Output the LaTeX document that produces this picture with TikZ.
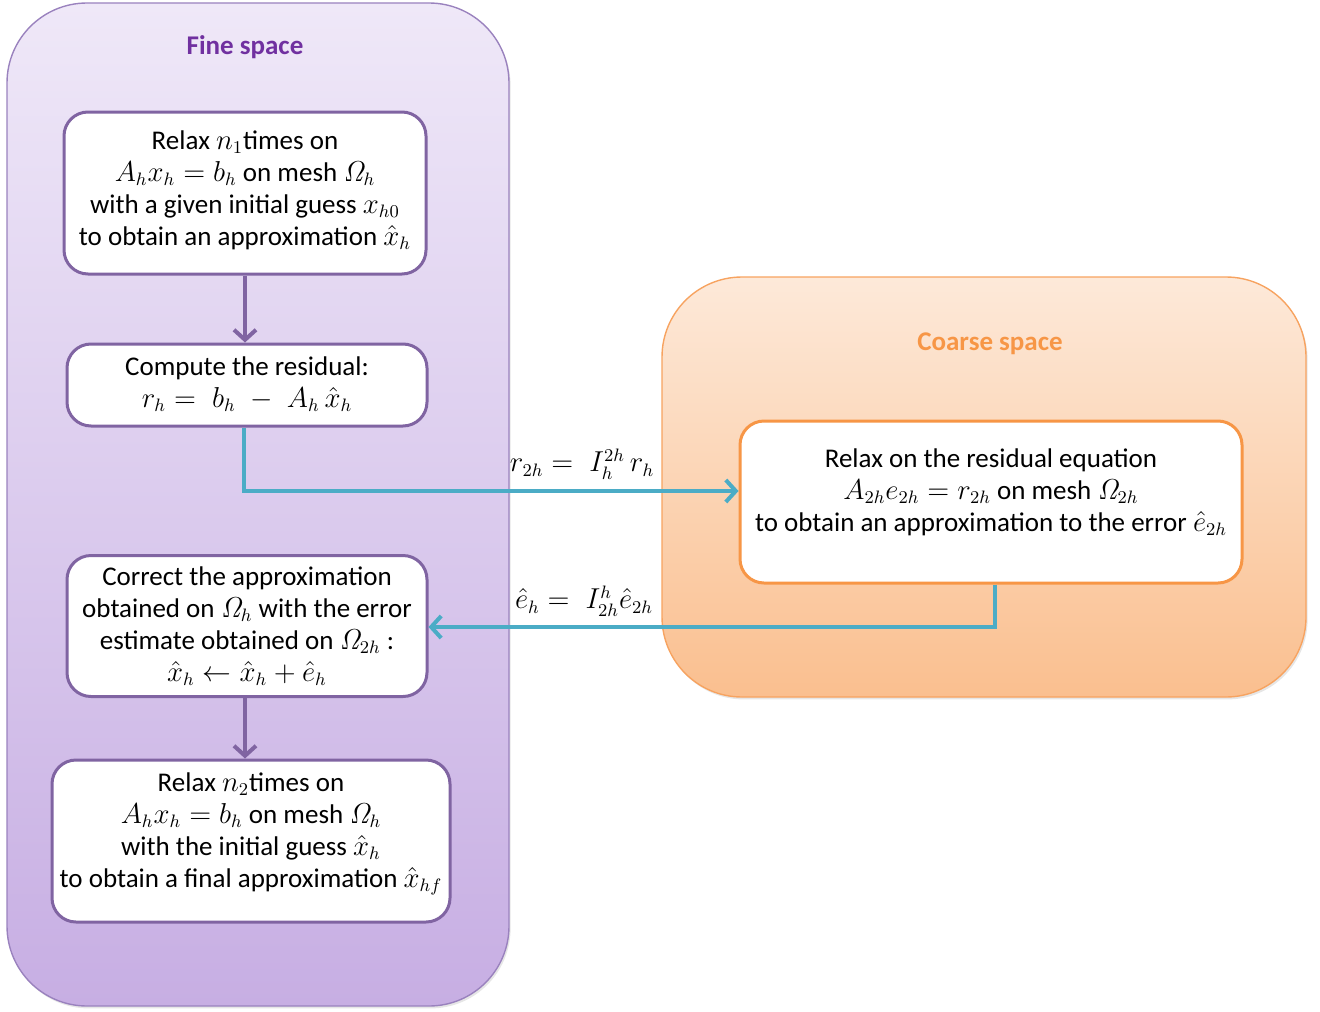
\documentclass[tikz,border=0pt]{standalone}
\usepackage[no-math]{fontspec}
\setmainfont{Carlito}
\usetikzlibrary{arrows.meta,shadows}
\definecolor{finetop}{HTML}{EFE8F8}
\definecolor{finebot}{HTML}{C7AEE3}
\definecolor{fineedge}{HTML}{9A82BE}
\definecolor{coarsetop}{HTML}{FDE9D9}
\definecolor{coarsebot}{HTML}{FABF8F}
\definecolor{coarseedge}{HTML}{F7A360}
\definecolor{purp}{HTML}{8064A2}
\definecolor{purptitle}{HTML}{7030A0}
\definecolor{orng}{HTML}{F79646}
\definecolor{cyanl}{HTML}{4BACC6}
\newcommand{\Om}{\mathit{\Omega}}
\tikzset{
  container/.style={rounded corners=40pt, line width=0.7pt, drop shadow={opacity=0.2, shadow xshift=0.8pt, shadow yshift=-1.2pt}},
  finebox/.style={draw=purp, line width=1.5pt, fill=white, rounded corners=12pt, inner sep=0pt},
  coarsebox/.style={finebox, draw=orng},
  boxtext/.style={align=center, inner sep=0pt, font=\fontsize{13.5}{16}\selectfont},
  title/.style={font=\fontsize{13.5}{16}\selectfont\bfseries},
  purparrow/.style={draw=purp, line width=2pt, -{Straight Barb[length=5pt, width=11pt, line width=2pt]}},
  cyanarrow/.style={draw=cyanl, line width=2pt, -{Straight Barb[length=5pt, width=11pt, line width=2pt]}},
  lbl/.style={font=\fontsize{13.5}{16}\selectfont, inner sep=0pt}
}
\begin{document}
\begin{tikzpicture}[x=0.5pt, y=-0.5pt]
\useasboundingbox (0,0) rectangle (1320,1011);
% containers
\path[container, draw=fineedge, top color=finetop, bottom color=finebot] (7,3) rectangle (509,1006);
\path[container, draw=coarseedge, top color=coarsetop, bottom color=coarsebot] (662,277) rectangle (1306,697);
\node[title, text=purptitle] (tf) at (245,47) {Fine space};
\node[title, text=orng] (tc) at (990,344) {Coarse space};
% boxes
\node[finebox, minimum width=181pt, minimum height=81pt] (b1) at (245,193) {};
\node[boxtext] (t1) at (245,190)
  {Relax $n_1$times on\\ $A_hx_h=b_h$ on mesh $\Om_h$\\ with a given initial guess $x_{h0}$\\ to obtain an approximation $\hat{x}_h$};
\node[finebox, minimum width=180pt, minimum height=41pt] (b2) at (247,385) {};
\node[boxtext] (t2) at (247,384)
  {Compute the residual:\\ $r_h =\; b_h \;-\; A_h\,\hat{x}_h$};
\node[coarsebox, minimum width=251pt, minimum height=81pt] (b3) at (991,502) {};
\node[boxtext] (t3) at (991,492)
  {Relax on the residual equation\\ $A_{2h}e_{2h}=r_{2h}$ on mesh $\Om_{2h}$\\ to obtain an approximation to the error $\hat{e}_{2h}$};
\node[finebox, minimum width=180pt, minimum height=70.5pt] (b4) at (247,626) {};
\node[boxtext] (t4) at (247,626)
  {Correct the approximation\\ obtained on $\Om_h$ with the error\\ estimate obtained on $\Om_{2h}$ :\\ $\hat{x}_h \leftarrow \hat{x}_h + \hat{e}_h$};
\node[finebox, minimum width=199pt, minimum height=81pt] (b5) at (251,841) {};
\node[boxtext] (t5) at (251,834)
  {Relax $n_2$times on\\ $A_hx_h=b_h$ on mesh $\Om_h$\\ with the initial guess $\hat{x}_h$\\ to obtain a final approximation $\hat{x}_{hf}$};
% connectors
\draw[purparrow] (b1.south) -- (b1.south |- b2.north);
\draw[purparrow] (b4.south -| b1.south) -- (b1.south |- b5.north);
\coordinate (r1) at (244,491);
\draw[cyanarrow] (b2.south -| r1) -- (r1) -- (b3.west |- r1);
\coordinate (r2) at (995,627);
\draw[cyanarrow] (b3.south -| r2) -- (r2) -- (b4.east |- r2);
\node[lbl] (l1) at (582,464) {$r_{2h} =\; I_h^{2h}\, r_h$};
\node[lbl] (l2) at (584,601) {$\hat{e}_h =\; I_{2h}^{h}\hat{e}_{2h}$};
\end{tikzpicture}
\end{document}
